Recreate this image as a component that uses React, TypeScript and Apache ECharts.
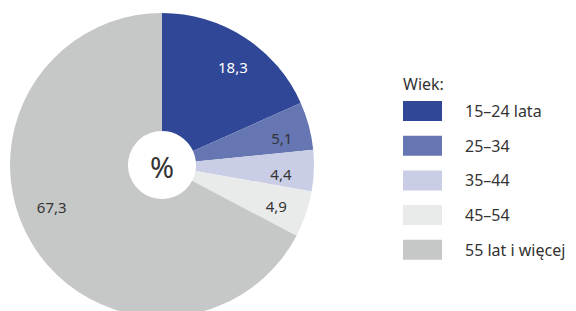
import React, { useEffect, useRef } from "react";
import * as echarts from "echarts";

const categories = ["15–24 lata", "25–34", "35–44", "45–54", "55 lat i więcej"];
const values = [18.3, 5.1, 4.4, 4.9, 67.3];
const colors = ["#2f4796", "#6676b3", "#c9cee6", "#e9ebeb", "#c6c7c7"];
const labelColors = ["#ffffff", "#333333", "#333333", "#333333", "#333333"];
const labelNudges = [[4, 5], [1, 5], [-4, 4], [-2, 1], [-5, -22]];

const FONT = "'Noto Sans', 'Open Sans', sans-serif";

export default function App() {
  const ref = useRef<HTMLDivElement>(null);
  useEffect(() => {
    if (!ref.current) return;
    const chart = echarts.init(ref.current, undefined, { renderer: "svg" });
    const data = categories.map((name, i) => ({
      name,
      value: values[i],
      itemStyle: { color: colors[i] },
    }));
    chart.setOption({
      animation: false,
      backgroundColor: "#ffffff",
      title: {
        text: "Wiek:",
        left: 390,
        top: 63,
        textStyle: { fontFamily: FONT, fontSize: 16, fontWeight: "normal", color: "#333333" },
      },
      legend: {
        orient: "vertical",
        left: 390,
        top: 88,
        icon: "rect",
        itemWidth: 39,
        itemHeight: 20,
        itemGap: 14.7,
        selectedMode: false,
        data: categories,
        textStyle: {
          fontFamily: FONT,
          fontSize: 16,
          color: "#333333",
          padding: [0, 0, 0, 18],
        },
      },
      series: [
        {
          type: "pie",
          center: [154, 157],
          radius: [34, 152],
          startAngle: 90,
          clockwise: true,
          silent: true,
          label: { show: false },
          labelLine: { show: false },
          data,
        },
        {
          type: "pie",
          center: [154, 157],
          radius: [88, 152],
          startAngle: 90,
          clockwise: true,
          silent: true,
          itemStyle: { color: "rgba(0,0,0,0)" },
          label: {
            show: true,
            position: "inner",
            fontFamily: FONT,
            fontSize: 15,
            formatter: (p: any) => String(p.value).replace(".", ","),
          },
          labelLine: { show: false },
          labelLayout: (p: any) => ({ dx: labelNudges[p.dataIndex][0], dy: labelNudges[p.dataIndex][1] }),
          data: categories.map((name, i) => ({
            name: name + " ",
            value: values[i],
            label: { color: labelColors[i] },
          })),
        },
      ],
      graphic: [
        {
          type: "text",
          x: 154,
          y: 158,
          style: {
            text: "%",
            fontFamily: FONT,
            fontSize: 29,
            fill: "#333333",
            align: "center",
            verticalAlign: "middle",
          },
        },
      ],
    });
    return () => chart.dispose();
  }, []);
  return <div ref={ref} style={{ width: 568, height: 303 }} />;
}
